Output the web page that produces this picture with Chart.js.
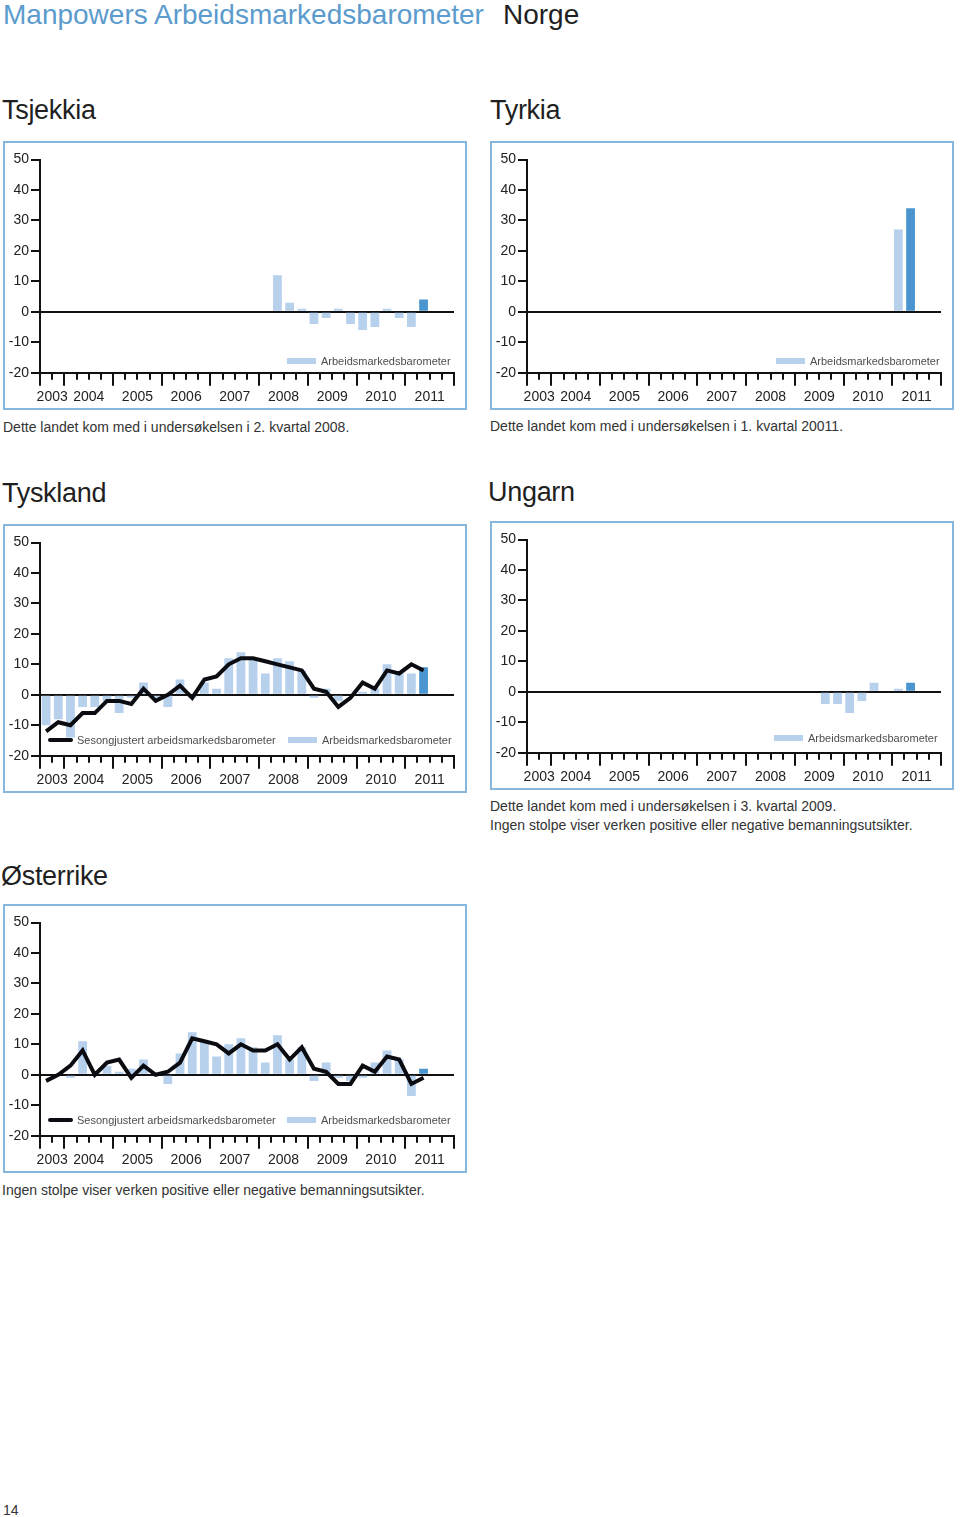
<!DOCTYPE html>
<html>
<head>
<meta charset="utf-8">
<script src="https://cdn.jsdelivr.net/npm/chart.js@4.4.0/dist/chart.umd.min.js"></script>
<style>
  html, body { margin: 0; padding: 0; background: #fff; }
  body { font-family: "Liberation Sans", Arial, Helvetica, sans-serif; }
  #page { position: relative; width: 960px; height: 1517px; overflow: hidden; background: #fff; }
  .t { position: absolute; white-space: nowrap; color: #1f1f1f; }
  .title { font-size: 28px; line-height: 28px; }
  .head { font-size: 27px; line-height: 27px; letter-spacing: -0.3px; }
  .cap { font-size: 14px; line-height: 19px; color: #333; }
  .frame { position: absolute; border: 2px solid #86b7de; width: 460px; height: 265px; }
  .inner { position: relative; width: 460px; height: 265px; }
  .inner canvas { position: absolute; left: 0; top: 0; }
  .lg { position: absolute; display: flex; align-items: center; height: 12px; font-size: 11px; line-height: 12px; color: #4d4d4d; white-space: nowrap; }
  .sw-bar { display: inline-block; width: 29px; height: 6px; background: #b7d0ec; margin-right: 5px; }
  .sw-line { display: inline-block; width: 25px; height: 4px; background: #0b0b12; border-radius: 2px; margin-right: 4px; }
</style>
</head>
<body>
<div id="page">
  <div class="t title" style="left:3px; top:1px; color:#5b9bcd;">Manpowers Arbeidsmarkedsbarometer</div>
  <div class="t title" style="left:503px; top:1px;">Norge</div>

  <div class="t head" style="left:2px; top:97px;">Tsjekkia</div>
  <div class="t head" style="left:490px; top:97px;">Tyrkia</div>

  <div class="frame" style="left:3px; top:141px;">
    <div class="inner">
      <canvas id="c1" width="460" height="265"></canvas>
      <div class="lg" style="left:282px; top:212px;"><span class="sw-bar"></span>Arbeidsmarkedsbarometer</div>
    </div>
  </div>
  <div class="frame" style="left:490px; top:141px;">
    <div class="inner">
      <canvas id="c2" width="460" height="265"></canvas>
      <div class="lg" style="left:284px; top:212px;"><span class="sw-bar"></span>Arbeidsmarkedsbarometer</div>
    </div>
  </div>
  <div class="t cap" style="left:3px; top:418px;">Dette landet kom med i undersøkelsen i 2. kvartal 2008.</div>
  <div class="t cap" style="left:490px; top:417px;">Dette landet kom med i undersøkelsen i 1. kvartal 20011.</div>

  <div class="t head" style="left:2px; top:480px;">Tyskland</div>
  <div class="t head" style="left:488px; top:479px;">Ungarn</div>

  <div class="frame" style="left:3px; top:524px;">
    <div class="inner">
      <canvas id="c3" width="460" height="265"></canvas>
      <div class="lg" style="left:43px; top:208px;"><span class="sw-line"></span>Sesongjustert arbeidsmarkedsbarometer</div>
      <div class="lg" style="left:283px; top:208px;"><span class="sw-bar"></span>Arbeidsmarkedsbarometer</div>
    </div>
  </div>
  <div class="frame" style="left:490px; top:521px;">
    <div class="inner">
      <canvas id="c4" width="460" height="265"></canvas>
      <div class="lg" style="left:282px; top:209px;"><span class="sw-bar"></span>Arbeidsmarkedsbarometer</div>
    </div>
  </div>
  <div class="t cap" style="left:490px; top:797px;">Dette landet kom med i undersøkelsen i 3. kvartal 2009.<br>Ingen stolpe viser verken positive eller negative bemanningsutsikter.</div>

  <div class="t head" style="left:1px; top:863px;">Østerrike</div>
  <div class="frame" style="left:3px; top:904px;">
    <div class="inner">
      <canvas id="c5" width="460" height="265"></canvas>
      <div class="lg" style="left:43px; top:208px;"><span class="sw-line"></span>Sesongjustert arbeidsmarkedsbarometer</div>
      <div class="lg" style="left:282px; top:208px;"><span class="sw-bar"></span>Arbeidsmarkedsbarometer</div>
    </div>
  </div>
  <div class="t cap" style="left:2px; top:1181px;">Ingen stolpe viser verken positive eller negative bemanningsutsikter.</div>

  <div class="t" style="left:3px; top:1503px; font-size:14px; line-height:14px; color:#333;">14</div>
</div>

<script>
// ---------- categories (quarters, 2003 K3 .. 2011 K4) ----------
const quarters = [
  '2003 K3','2003 K4',
  '2004 K1','2004 K2','2004 K3','2004 K4',
  '2005 K1','2005 K2','2005 K3','2005 K4',
  '2006 K1','2006 K2','2006 K3','2006 K4',
  '2007 K1','2007 K2','2007 K3','2007 K4',
  '2008 K1','2008 K2','2008 K3','2008 K4',
  '2009 K1','2009 K2','2009 K3','2009 K4',
  '2010 K1','2010 K2','2010 K3','2010 K4',
  '2011 K1','2011 K2','2011 K3','2011 K4'
];
// ---------- x-axis tick labels ----------
const years = ['2003','2004','2005','2006','2007','2008','2009','2010','2011'];
const yearStartQuarter = [0, 2, 6, 10, 14, 18, 22, 26, 30, 34];   // year boundaries (in quarters)
const yearLabelQuarter = [1, 4, 8, 12, 16, 20, 24, 28, 32];        // label positions (mid-year)
// ---------- y-axis ----------
const yMin = -20, yMax = 50, yStep = 10;
// latest survey quarter (highlighted bar)
const latestQuarter = '2011 K2';

// ---------- series values ----------
const tsjekkiaBars = [null,null,null,null,null,null,null,null,null,null,null,null,null,null,null,null,null,null,null,
  12,3,1,-4,-2,1,-4,-6,-5,1,-2,-5,4,null,null];

const tyrkiaBars = [null,null,null,null,null,null,null,null,null,null,null,null,null,null,null,
  null,null,null,null,null,null,null,null,null,null,null,null,null,null,null,
  27,34,null,null];

const tysklandBars = [-10,-8,-14,-4,-4,-2,-6,-1,4,-1,-4,5,-1,4,2,12,14,12,7,12,11,8,-1,2,-2,0,1,2,10,7,7,9,null,null];
const tysklandLine = [-12,-9,-10,-6,-6,-2,-2,-3,2,-2,0,3,-1,5,6,10,12,12,11,10,9,8,2,1,-4,-1,4,2,8,7,10,8,null,null];

const ungarnBars = [null,null,null,null,null,null,null,null,null,null,null,null,null,null,null,null,null,null,null,null,null,null,null,null,
  -4,-4,-7,-3,3,0,1,3,null,null];

const osterrikeBars = [0,0,-1,11,0,3,1,2,5,0,-3,7,14,11,6,10,12,9,4,13,5,9,-2,4,-1,-2,-1,4,8,5,-7,2,null,null];
const osterrikeLine = [-2,0,3,8,0,4,5,-1,3,0,1,4,12,11,10,7,10,8,8,10,5,9,2,1,-3,-3,3,1,6,5,-3,-1,null,null];

// ---------- styling ----------
const LIGHT = '#b7d0ec';
const DARK = '#4a95cf';
const INK = '#111111';
const LINE = '#0b0b12';
const FONT = "'Liberation Sans', Arial, Helvetica, sans-serif";

Chart.defaults.font.family = FONT;
Chart.defaults.animation = false;

function makeChart(id, bars, line) {
  const hi = quarters.indexOf(latestQuarter);
  const datasets = [];
  if (line) {
    datasets.push({
      type: 'line', label: 'Sesongjustert arbeidsmarkedsbarometer', data: line,
      borderColor: LINE, borderWidth: 4, pointRadius: 0, pointHoverRadius: 0,
      fill: false, tension: 0, order: 0, borderJoinStyle: 'miter', borderCapStyle: 'butt'
    });
  }
  datasets.push({
    type: 'bar', label: 'Arbeidsmarkedsbarometer', data: bars,
    backgroundColor: bars.map((v, i) => i === hi ? DARK : LIGHT),
    borderWidth: 0, barPercentage: 0.72, categoryPercentage: 1, order: 1
  });

  return new Chart(document.getElementById(id), {
    type: 'bar',
    data: { labels: quarters, datasets },
    options: {
      responsive: false,
      maintainAspectRatio: false,
      animation: false,
      events: [],
      layout: { padding: { top: 16.5, right: 11, left: 0, bottom: 0 } },
      plugins: { legend: { display: false }, tooltip: { enabled: false } },
      scales: {
        x: {
          type: 'category', position: 'bottom', weight: 0, offset: true,
          grid: { offset: true, drawOnChartArea: false, drawTicks: true, tickLength: 7, color: INK, lineWidth: 2 },
          border: { display: true, color: INK, width: 2 },
          ticks: { display: false },
          afterFit: s => { s.height = 0; }
        },
        xMaj: {
          type: 'linear', position: 'bottom', weight: 1, min: 0, max: 34, offset: false,
          afterBuildTicks: s => { s.ticks = yearStartQuarter.map(v => ({ value: v })); },
          grid: { offset: false, drawOnChartArea: false, drawTicks: true, tickLength: 13, color: INK, lineWidth: 2 },
          border: { display: false },
          ticks: { display: false },
          afterFit: s => { s.height = 0; }
        },
        xYr: {
          type: 'linear', position: 'bottom', weight: 2, min: 0, max: 34, offset: false,
          afterBuildTicks: s => { s.ticks = yearLabelQuarter.map(v => ({ value: v })); },
          grid: { offset: false, display: false, drawTicks: false },
          border: { display: false },
          ticks: {
            autoSkip: false, maxRotation: 0, minRotation: 0, padding: 16,
            color: '#222', font: { size: 14, family: FONT },
            callback: (v) => years[yearLabelQuarter.indexOf(v)]
          },
          afterFit: s => { s.height = 35.3; }
        },
        y: {
          type: 'linear', position: 'left', min: yMin, max: yMax, z: 1,
          ticks: { stepSize: yStep, padding: 2, color: '#222', font: { size: 14, family: FONT } },
          grid: {
            drawOnChartArea: true, drawTicks: true, tickLength: 9,
            color: c => (c.tick && c.tick.value === 0) ? INK : 'rgba(0,0,0,0)',
            lineWidth: 2, tickColor: INK, tickWidth: 2
          },
          border: { display: true, color: INK, width: 2 },
          afterFit: s => { s.width = 35; }
        }
      }
    }
  });
}

makeChart('c1', tsjekkiaBars, null);
makeChart('c2', tyrkiaBars, null);
makeChart('c3', tysklandBars, tysklandLine);
makeChart('c4', ungarnBars, null);
makeChart('c5', osterrikeBars, osterrikeLine);
</script>
</body>
</html>
